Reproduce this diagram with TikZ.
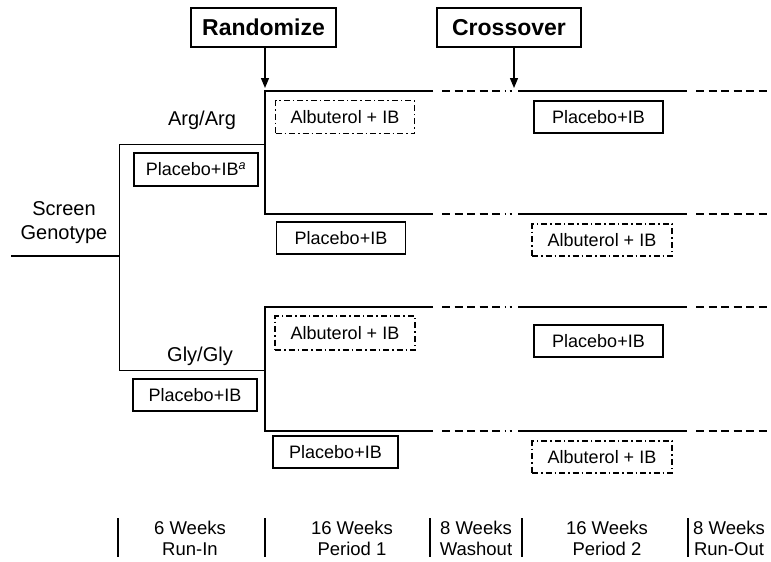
\documentclass[tikz,border=0pt]{standalone}
\usepackage{fontspec}
\setmainfont{Liberation Sans}
\usetikzlibrary{arrows.meta}
\begin{document}
\begin{tikzpicture}[x=1pt,y=-1pt,
  box/.style={draw, line width=1.2pt, inner sep=0pt, font=\fontsize{18}{21}\selectfont},
  dbox/.style={box, dash pattern=on 6pt off 3pt on 1.5pt off 3pt},
  hbox/.style={draw, line width=1.4pt, inner sep=0pt, font=\bfseries\fontsize{23}{27}\selectfont},
  lbl/.style={font=\fontsize{20}{24}\selectfont, align=center, inner sep=0pt},
  per/.style={font=\fontsize{18.5}{21}\selectfont, align=center, inner sep=0pt},
  arm/.style={line width=2pt},
  thinline/.style={line width=1pt},
  armdash/.style={line width=2pt, dash pattern=on 8pt off 4.5pt},
  bar/.style={line width=2pt},
  arr/.style={line width=1.3pt, -{Triangle[length=10pt,width=8pt]}, shorten >=3pt}
]
\useasboundingbox (0,0) rectangle (771,562);

% header boxes
\node[hbox, minimum width=145pt, minimum height=39pt] (rand) at (263.5,27.5) {Randomize};
\node[hbox, minimum width=144pt, minimum height=39pt] (cross) at (509,27.5) {Crossover};

% arms
\foreach \n/\y in {aa/91, ab/214, ga/307, gb/431}{
  \coordinate (\n0) at (265,\y);
  \coordinate (\n1) at (433,\y);
  \coordinate (\n2) at (442,\y);
  \coordinate (\n3) at (506,\y);
  \coordinate (\n4) at (509.5,\y);
  \coordinate (\n5) at (512,\y);
  \coordinate (\n6) at (518,\y);
  \coordinate (\n7) at (687,\y);
  \coordinate (\n8) at (696,\y);
  \coordinate (\n9) at (771,\y);
  \draw[armdash] (\n2) -- (\n3);
  \draw[line width=2pt] (\n4) -- (\n5);
  \draw[arm] (\n6) -- (\n7);
  \draw[armdash] (\n8) -- (\n9);
}
\draw[arm] (aa1) -- (aa0) -- (ab0) -- (ab1);
\draw[arm] (ga1) -- (ga0) -- (gb0) -- (gb1);

% arrows
\coordinate (cx) at (514,91);
\draw[arr] (rand.south -| aa0) -- (aa0);
\draw[arr] (cross.south -| cx) -- (cx);

% screen branch
\coordinate (scr) at (11,256);
\coordinate (br) at (119,256);
\coordinate (brt) at (119,144);
\coordinate (brb) at (119,370);
\coordinate (ta) at (265,144);
\coordinate (tb) at (265,370);
\draw[line width=1.6pt] (scr) -- (br);
\draw[thinline] (ta) -- (brt) -- (brb) -- (tb);
\node[lbl] (screen) at (64,223) {Screen\\Genotype};
\node[lbl] (arg) at (202,120) {Arg/Arg};
\node[lbl] (gly) at (200,356) {Gly/Gly};

% treatment boxes
\node[box, minimum width=124pt, minimum height=33pt] (pa) at (196,169.5) {Placebo+IB\textsuperscript{\itshape a}};
\node[dbox, minimum width=139pt, minimum height=33pt] (alb1) at (345,117) {Albuterol + IB};
\node[box, minimum width=129pt, minimum height=32pt] (plc1) at (341,238) {Placebo+IB};
\node[box, minimum width=129pt, minimum height=32pt] (plc2) at (598.5,117) {Placebo+IB};
\node[dbox, minimum width=140pt, minimum height=32pt] (alb2) at (602,240) {Albuterol + IB};
\node[box, minimum width=124pt, minimum height=32pt] (pg) at (195,395) {Placebo+IB};
\node[dbox, minimum width=140pt, minimum height=34pt] (alb3) at (345,333) {Albuterol + IB};
\node[box, minimum width=125pt, minimum height=32pt] (plc3) at (335.5,452) {Placebo+IB};
\node[box, minimum width=129pt, minimum height=32pt] (plc4) at (598.5,341) {Placebo+IB};
\node[dbox, minimum width=140pt, minimum height=32pt] (alb4) at (602,457) {Albuterol + IB};

% timeline
\foreach \n/\x in {b1/118, b2/265, b3/430, b4/522, b5/688}{
  \coordinate (\n t) at (\x,518);
  \coordinate (\n b) at (\x,557);
  \draw[bar] (\n t) -- (\n b);
}
\node[per] (p1) at (190,538) {6 Weeks\\Run-In};
\node[per] (p2) at (352,538) {16 Weeks\\Period 1};
\node[per] (p3) at (476,538) {8 Weeks\\Washout};
\node[per] (p4) at (607,538) {16 Weeks\\Period 2};
\node[per] (p5) at (729,538) {8 Weeks\\Run-Out};
\end{tikzpicture}
\end{document}
